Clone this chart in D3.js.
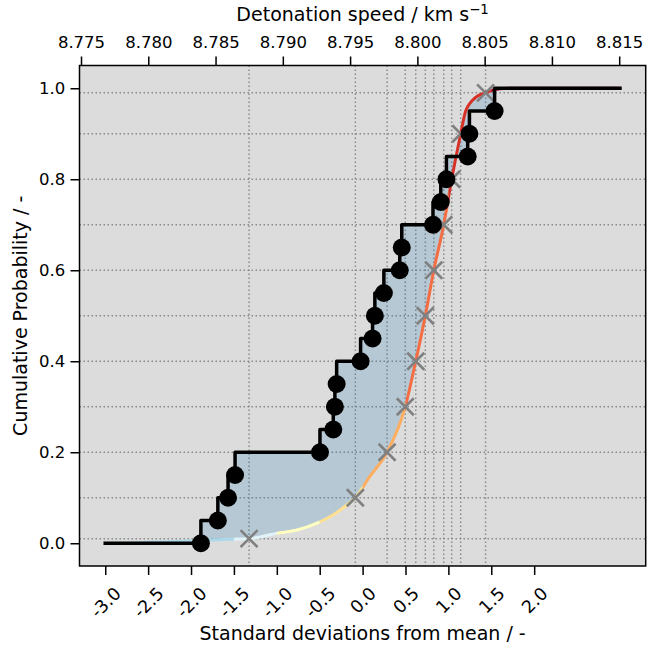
<!DOCTYPE html>
<html>
<head>
<meta charset="utf-8">
<script src="https://cdn.jsdelivr.net/npm/d3@7/dist/d3.min.js"></script>
<style>
  body { margin: 0; background: #fff; }
  svg { display: block; }
  text { font-family: "DejaVu Sans", sans-serif; fill: #000; }
</style>
</head>
<body>
<svg id="chart" width="648" height="646"></svg>
<script>
// Measured detonation speeds (km/s), sorted ascending
const speeds = [8.78391, 8.78517, 8.78593, 8.78645, 8.79276, 8.79375, 8.79387, 8.79400,
                8.79578, 8.79667, 8.79684, 8.79751, 8.79869, 8.79884, 8.80116, 8.80174,
                8.80216, 8.80374, 8.80387, 8.80574];

// Fitted distribution: cumulative probability against speed (km/s)
const modelSpeed = [8.77681, 8.77941, 8.78215, 8.78386, 8.78608, 8.78749, 8.78957, 8.79105,
                    8.79254, 8.79372, 8.79476, 8.79539, 8.79647, 8.79775, 8.79910, 8.79988,
                    8.80059, 8.80122, 8.80196, 8.80255, 8.80322, 8.80359, 8.80433, 8.80507,
                    8.80611, 8.80723, 8.81501];
const modelProb  = [0.0, 0.001, 0.004, 0.006, 0.0088, 0.01, 0.022, 0.029,
                    0.044, 0.062, 0.084, 0.1, 0.147, 0.2, 0.3, 0.4,
                    0.5, 0.6, 0.7, 0.8, 0.9, 0.95, 0.98, 0.99,
                    0.999, 1.0, 1.0];

// Reference probability levels and the fitted speeds at those levels
const quantileLevels = [0.01, 0.1, 0.2, 0.3, 0.4, 0.5, 0.6, 0.7, 0.8, 0.9, 0.99];
const quantileSpeeds = [8.78749, 8.79539, 8.79775, 8.79910, 8.79988, 8.80059, 8.80122,
                        8.80196, 8.80255, 8.80322, 8.80507];

// Tick values and labels
const sigmaTicks = [-3.0, -2.5, -2.0, -1.5, -1.0, -0.5, 0.0, 0.5, 1.0, 1.5, 2.0];
const sigmaTickLabels = ["-3.0", "-2.5", "-2.0", "-1.5", "-1.0", "-0.5", "0.0", "0.5", "1.0", "1.5", "2.0"];
const speedTicks = [8.775, 8.780, 8.785, 8.790, 8.795, 8.800, 8.805, 8.810, 8.815];
const probTicks = [0.0, 0.2, 0.4, 0.6, 0.8, 1.0];

// Fitted-curve colour bands, by standard deviations from the mean
const bandEdges  = [-1.5, -1.0, -0.5, 0.0, 0.5, 1.0, 1.5];
const bandColors = ["#abd9e9", "#e0f3f8", "#ffffbf", "#fee090", "#fdae61", "#f46d43", "#d73027", "#a50026"];

// ---- layout ----
const L = 79.5, R = 645.7, T = 65.5, B = 566;
const tickFont = 16.5, sigmaTickFont = 17.5, labelFont = 19, tickLen = 9, tickPad = 5.25;

const svg = d3.select("#chart");

// Sample statistics (population standard deviation)
const n = speeds.length;
const mean = d3.mean(speeds);
const sd = Math.sqrt(d3.mean(speeds, d => (d - mean) ** 2));

const sigmaX = d3.scaleLinear().domain([-3.3, 3.3]).range([L, R]);
const speedX = d3.scaleLinear().domain([mean - 3.3 * sd, mean + 3.3 * sd]).range([L, R]);
const y = d3.scaleLinear().domain([-0.05, 1.05]).range([B, T]);

// Plot background
svg.append("rect").attr("x", L).attr("y", T).attr("width", R - L).attr("height", B - T)
  .attr("fill", "#dcdcdc");

const defs = svg.append("defs");
defs.append("clipPath").attr("id", "plotClip")
  .append("rect").attr("x", L).attr("y", T).attr("width", R - L).attr("height", B - T);

const plot = svg.append("g").attr("clip-path", "url(#plotClip)");

// Dotted grid at the reference probability levels and fitted quantiles
const gridStyle = sel => sel.attr("stroke", "#8a8a8a").attr("stroke-width", 1.5)
  .attr("stroke-dasharray", "1.5,2.5");
plot.append("g").selectAll("line").data(quantileLevels).join("line")
  .attr("x1", L).attr("x2", R).attr("y1", d => y(d)).attr("y2", d => y(d)).call(gridStyle);
plot.append("g").selectAll("line").data(quantileSpeeds).join("line")
  .attr("y1", T).attr("y2", B).attr("x1", d => speedX(d)).attr("x2", d => speedX(d)).call(gridStyle);

// Empirical CDF as a step line from -3 to +3 standard deviations
const vMin = mean - 3 * sd, vMax = mean + 3 * sd;
const stepPts = [[vMin, 0]];
speeds.forEach((v, i) => {
  stepPts.push([v, i / n]);
  stepPts.push([v, (i + 1) / n]);
});
stepPts.push([vMax, 1]);

const modelPts = modelSpeed.map((v, i) => [v, modelProb[i]]);

const stepLine = d3.line().x(d => speedX(d[0])).y(d => y(d[1]));
const modelLine = d3.line().x(d => speedX(d[0])).y(d => y(d[1])).curve(d3.curveMonotoneX);

// Shaded gap between empirical and fitted CDFs: both outlines are closed
// along the same right edge and baseline so that only the gap is filled
const closeToBase = `L${speedX(vMax)},${y(1)}L${speedX(vMax)},${y(0)}L${speedX(vMin)},${y(0)}Z`;
const gapPath = stepLine(stepPts) + closeToBase + modelLine(modelPts) + closeToBase;
plot.append("path").attr("d", gapPath).attr("fill", "#1f77b4").attr("fill-opacity", 0.2)
  .attr("fill-rule", "evenodd").attr("stroke", "none");

// Fitted CDF, coloured in sigma bands
const edges = [-3.3, ...bandEdges, 3.3];
bandColors.forEach((c, i) => {
  const id = "band" + i;
  defs.append("clipPath").attr("id", id).append("rect")
    .attr("x", sigmaX(edges[i])).attr("width", sigmaX(edges[i + 1]) - sigmaX(edges[i]))
    .attr("y", T).attr("height", B - T);
  plot.append("g").attr("clip-path", `url(#${id})`)
    .append("path").attr("d", modelLine(modelPts)).attr("fill", "none")
    .attr("stroke", c).attr("stroke-width", 3);
});

// Fitted quantile markers
plot.append("g").selectAll("path").data(quantileSpeeds).join("path")
  .attr("transform", (d, i) => `translate(${speedX(d)},${y(quantileLevels[i])})`)
  .attr("d", "M-8.5,-8.5L8.5,8.5M-8.5,8.5L8.5,-8.5")
  .attr("stroke", "#808080").attr("stroke-width", 2.6).attr("fill", "none");

// Empirical step line and sample points
plot.append("path").attr("d", stepLine(stepPts)).attr("fill", "none")
  .attr("stroke", "#000").attr("stroke-width", 3.5)
  .attr("stroke-linecap", "square").attr("stroke-linejoin", "round");
plot.append("g").selectAll("circle").data(speeds).join("circle")
  .attr("cx", d => speedX(d)).attr("cy", (d, i) => y(i / n)).attr("r", 9).attr("fill", "#000");

// Frame
svg.append("rect").attr("x", L).attr("y", T).attr("width", R - L).attr("height", B - T)
  .attr("fill", "none").attr("stroke", "#000").attr("stroke-width", 1.5);

// Axes
const styleAxis = (g, size) => {
  g.select(".domain").remove();
  g.selectAll(".tick line").attr("stroke", "#000").attr("stroke-width", 1.5);
  g.selectAll(".tick text").attr("font-size", size).attr("fill", "#000")
    .style("font-family", '"DejaVu Sans", sans-serif');
};

const xBottom = svg.append("g").attr("transform", `translate(0,${B})`)
  .call(d3.axisBottom(sigmaX).tickValues(sigmaTicks)
    .tickFormat((d, i) => sigmaTickLabels[i]).tickSize(tickLen).tickSizeOuter(0))
  .call(styleAxis, sigmaTickFont);
xBottom.selectAll(".tick text").each(function () {
  const t = d3.select(this);
  const w = this.getComputedTextLength();
  const h = 1.164 * sigmaTickFont;
  const boxH = (w + h) * Math.SQRT1_2;
  t.attr("y", null).attr("dy", null).attr("text-anchor", "middle")
    .attr("dominant-baseline", "central")
    .attr("transform", `translate(0,${tickLen + tickPad + 3 + boxH / 2}) rotate(-45)`);
});

svg.append("g").attr("transform", `translate(0,${T})`)
  .call(d3.axisTop(speedX).tickValues(speedTicks).tickFormat(d3.format(".3f"))
    .tickSize(tickLen).tickPadding(9).tickSizeOuter(0))
  .call(styleAxis, tickFont);

svg.append("g").attr("transform", `translate(${L},0)`)
  .call(d3.axisLeft(y).tickValues(probTicks).tickFormat(d3.format(".1f"))
    .tickSize(tickLen).tickPadding(tickPad).tickSizeOuter(0))
  .call(styleAxis, tickFont);

// Axis titles
svg.append("text").attr("x", (L + R) / 2).attr("y", 640).attr("text-anchor", "middle")
  .attr("font-size", labelFont).text("Standard deviations from mean / -");

const speedTitle = svg.append("text").attr("x", (L + R) / 2).attr("y", 21).attr("text-anchor", "middle")
  .attr("font-size", labelFont);
speedTitle.append("tspan").text("Detonation speed / km s");
speedTitle.append("tspan").attr("font-size", 13.3).attr("dy", -7.5).text("\u22121");

svg.append("text").attr("transform", `translate(27,${(T + B) / 2}) rotate(-90)`)
  .attr("text-anchor", "middle").attr("font-size", labelFont).text("Cumulative Probability / -");
</script>
</body>
</html>
